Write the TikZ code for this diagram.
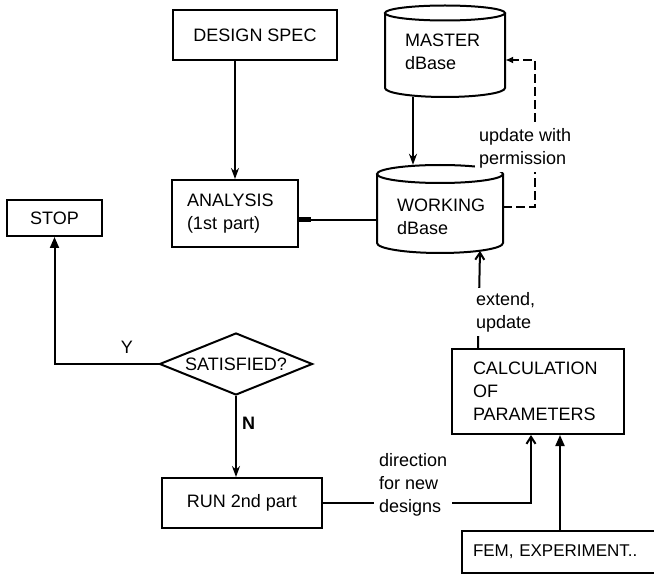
\documentclass[tikz,border=0pt]{standalone}
\usepackage{fontspec}
\setmainfont{Liberation Sans}
\usetikzlibrary{arrows.meta,shapes.geometric}
\begin{document}
\begin{tikzpicture}[x=1pt,y=1pt,
  every node/.style={font=\fontsize{18}{23}\selectfont},
  ln/.style={line width=2pt},
  box/.style={draw, line width=2pt, inner sep=0pt},
  arr/.style={ln, -{Stealth[length=11pt,width=8pt]}},
  tarr/.style={ln, -{Triangle[length=11pt,width=9pt]}},
  barb/.style={ln, -{Straight Barb[length=7pt,width=9pt]}},
  dashline/.style={ln, dash pattern=on 9pt off 4pt},
  lbl/.style={fill=white, inner sep=4pt, align=left},
  dbtxt/.style={inner sep=0pt, align=left, anchor=west},
  dbnode/.style={inner sep=0pt}]
\clip (0,0) rectangle (654,-575);
\fill[white] (0,0) rectangle (654,-575);

% boxes
\node[box, minimum width=164pt, minimum height=50pt] (ds) at (255,-35) {DESIGN SPEC};
\node[box, minimum width=126pt, minimum height=67pt, text width=96pt, align=left] (an) at (235,-213.5) {ANALYSIS\\(1st part)};
\node[box, minimum width=95pt, minimum height=36pt] (stop) at (54.5,-218) {STOP};
\node[draw, diamond, ln, aspect=2.5, inner sep=0pt, minimum width=153pt, minimum height=62pt] (sat) at (236,-364) {SATISFIED?};
\node[box, minimum width=160pt, minimum height=50pt] (run) at (242,-503) {RUN 2nd part};
\node[box, minimum width=172pt, minimum height=85pt, text width=130pt, align=left] (calc) at (538,-391.5) {CALCULATION\\OF\\PARAMETERS};
\node[box, anchor=west, minimum width=215pt, minimum height=42pt, text width=193pt, align=left, font=\fontsize{17}{21}\selectfont] (fem) at (461,-552) {FEM, EXPERIMENT..};

% master cylinder
\node[dbnode, minimum width=120pt, minimum height=91.5pt] (master) at (445,-51.25) {};
\draw[ln] (445,-13) ellipse [x radius=60pt, y radius=7.5pt];
\draw[ln] (385,-13) -- (385,-88) arc[start angle=180, end angle=360, x radius=60pt, y radius=9pt] -- (505,-13);
\node[dbtxt] (mastertxt) at (405,-51.5) {MASTER\\dBase};

% working cylinder
\node[dbnode, minimum width=126pt, minimum height=88pt] (work) at (440,-209) {};
\draw[ln] (440,-174) ellipse [x radius=63pt, y radius=9pt];
\draw[ln] (377,-174) -- (377,-243) arc[start angle=180, end angle=360, x radius=63pt, y radius=10pt] -- (503,-174);
\node[dbtxt] (worktxt) at (397,-216.5) {WORKING\\dBase};

% connectors
\draw[arr] (an.north |- ds.south) -- (an.north);
\draw[arr] ([xshift=-32pt]master.south) -- ([xshift=-27pt]work.north);
\coordinate (ww) at ([yshift=-11pt]work.west);
\draw[ln, -{Rectangle[length=12pt,width=5pt]}] (ww) -- (ww -| an.east);

\coordinate (we) at ([yshift=2pt]work.east);
\coordinate (me) at ([yshift=-8.75pt]master.east);
\coordinate (dx) at (535,0);
\draw[dashline, -{Latex[length=8pt,width=7pt]}] (we) -- (we -| dx) -- (dx |- me) -- (me);

\draw[tarr] (sat.west) -| (stop.south);
\node (ylab) at (127,-347) {Y};
\draw[arr] (sat.south) -- (sat.south |- run.north);
\node[anchor=west, inner sep=0pt, font=\fontsize{18}{23}\selectfont\bfseries] (nlab) at (242,-423) {N};

\coordinate (cin) at ([xshift=-7pt]calc.south);
\draw[barb] (run.east) -| (cin);
\coordinate (cin2) at ([xshift=22pt]calc.south);
\draw[tarr] (cin2 |- fem.north) -- (cin2);

\coordinate (ctop) at ([xshift=-60pt]calc.north);
\coordinate (wbot) at ([shift={(40pt,2.3pt)}]work.south);
\draw[barb] (ctop) -- (wbot);

% labels
\node[lbl, anchor=west, inner sep=5pt] (dir) at (374,-485) {direction\\for new\\designs};
\node[lbl, anchor=west] (ext) at (472,-312) {extend,\\update};
\node[lbl, anchor=west] (upd) at (475,-148.5) {update with\\permission};
\end{tikzpicture}
\end{document}
